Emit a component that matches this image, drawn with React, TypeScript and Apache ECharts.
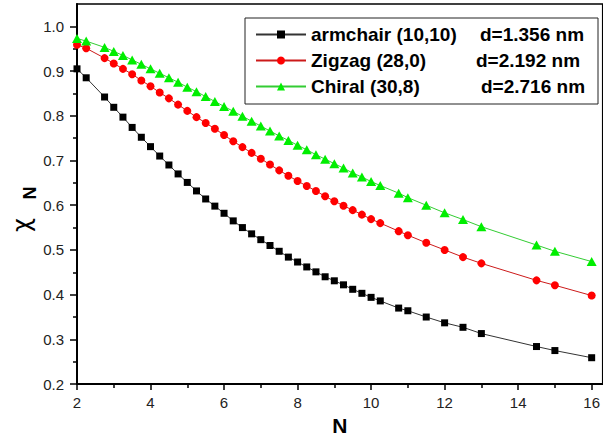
import React, { useEffect, useRef } from "react";
import * as echarts from "echarts";

const N_VALUES = [
  2, 2.25, 2.75, 3, 3.25, 3.5, 3.75, 4, 4.25, 4.5, 4.75, 5, 5.25, 5.5, 5.75, 6,
  6.25, 6.5, 6.75, 7, 7.25, 7.5, 7.75, 8, 8.25, 8.5, 8.75, 9, 9.25, 9.5, 9.75,
  10, 10.25, 10.75, 11, 11.5, 12, 12.5, 13, 14.5, 15, 16,
];

const ARMCHAIR = [
  0.905, 0.885, 0.842, 0.819, 0.797, 0.774, 0.752, 0.731, 0.710, 0.690, 0.670,
  0.651, 0.632, 0.614, 0.598, 0.582, 0.565, 0.550, 0.536, 0.523, 0.510, 0.497,
  0.484, 0.473, 0.462, 0.451, 0.440, 0.431, 0.422, 0.412, 0.403, 0.394, 0.386,
  0.370, 0.364, 0.350, 0.337, 0.327, 0.313, 0.284, 0.275, 0.259,
];

const ZIGZAG = [
  0.959, 0.951, 0.929, 0.917, 0.905, 0.893, 0.879, 0.866, 0.852, 0.839, 0.825,
  0.811, 0.797, 0.784, 0.771, 0.757, 0.743, 0.730, 0.717, 0.704, 0.691, 0.678,
  0.666, 0.654, 0.643, 0.632, 0.620, 0.609, 0.599, 0.589, 0.579, 0.569, 0.560,
  0.542, 0.533, 0.516, 0.500, 0.484, 0.470, 0.432, 0.421, 0.398,
];

const CHIRAL = [
  0.973, 0.967, 0.953, 0.944, 0.935, 0.925, 0.915, 0.905, 0.895, 0.885, 0.875,
  0.864, 0.854, 0.843, 0.832, 0.821, 0.810, 0.799, 0.788, 0.777, 0.766, 0.755,
  0.745, 0.734, 0.724, 0.713, 0.703, 0.693, 0.683, 0.672, 0.663, 0.653, 0.644,
  0.627, 0.617, 0.600, 0.583, 0.568, 0.552, 0.511, 0.497, 0.474,
];

const SERIES_NAMES = ["armchair (10,10)", "Zigzag (28,0)", "Chiral (30,8)"];
const DIAMETERS = ["d=1.356 nm", "d=2.192 nm", "d=2.716 nm"];

const X_TICKS = [2, 4, 6, 8, 10, 12, 14, 16];
const X_MINOR = [3, 5, 7, 9, 11, 13, 15];
const Y_TICKS = [0.2, 0.3, 0.4, 0.5, 0.6, 0.7, 0.8, 0.9, 1.0];
const Y_MINOR = [0.25, 0.35, 0.45, 0.55, 0.65, 0.75, 0.85, 0.95];

const FONT = "Liberation Sans, Arial, sans-serif";

export default function App() {
  const ref = useRef<HTMLDivElement>(null);

  useEffect(() => {
    if (!ref.current) return;
    const chart = echarts.init(ref.current, null, { renderer: "svg" });

    const pairs = (ys: number[]) => N_VALUES.map((n, i) => [n, ys[i]]);

    const aWidths = [169, 165, 170];
    const rich: Record<string, any> = {};
    aWidths.forEach((w, i) => {
      rich["a" + i] = { width: w, fontSize: 19, fontWeight: "bold", fontFamily: FONT, color: "#000", lineHeight: 20 };
      rich["b" + i] = { width: 277 - w, fontSize: 19, fontWeight: "bold", fontFamily: FONT, color: "#000", lineHeight: 20 };
    });

    const xMin = 2, xMax = 16.3, yMin = 0.2, yMax = 1.05;

    const option: any = {
      animation: false,
      backgroundColor: "#fff",
      grid: {
        left: 77,
        top: 4,
        width: 527.7,
        height: 382.7,
        show: true,
        borderColor: "#000",
        borderWidth: 1.5,
        backgroundColor: "transparent",
      },
      legend: {
        orient: "vertical",
        left: 245,
        top: 18,
        padding: [7, 10, 8, 10],
        itemWidth: 50,
        itemHeight: 10,
        itemGap: 7,
        borderColor: "#222",
        borderWidth: 1,
        backgroundColor: "#fff",
        data: SERIES_NAMES,
        formatter: (name: string) => {
          const i = SERIES_NAMES.indexOf(name);
          return `{a${i}|${name}}{b${i}|${DIAMETERS[i]}}`;
        },
        textStyle: {
          fontFamily: FONT,
          fontSize: 19,
          fontWeight: "bold",
          color: "#000",
          rich,
        },
      },
      xAxis: [
        {
          type: "value",
          min: xMin,
          max: xMax,
          interval: 2,
          position: "bottom",
          name: "N",
          nameLocation: "middle",
          nameGap: 28,
          nameTextStyle: { fontFamily: FONT, fontSize: 21, fontWeight: "bold", color: "#000" },
          axisLine: { show: true, lineStyle: { color: "#000", width: 2 } },
          axisTick: { show: true, length: 6, lineStyle: { color: "#000", width: 1.5 }, customValues: X_TICKS },
          axisLabel: { customValues: X_TICKS, margin: 11, fontFamily: FONT, fontSize: 15, color: "#222" },
          splitLine: { show: false },
        },
        {
          type: "value",
          min: xMin,
          max: xMax,
          position: "bottom",
          axisLine: { show: false },
          axisTick: { show: true, length: 4, lineStyle: { color: "#000", width: 1.5 }, customValues: X_MINOR },
          axisLabel: { show: false },
          splitLine: { show: false },
        },
      ],
      yAxis: [
        {
          type: "value",
          min: yMin,
          max: yMax,
          interval: 0.1,
          position: "left",
          axisLine: { show: true, lineStyle: { color: "#000", width: 2 } },
          axisTick: { show: true, length: 7, lineStyle: { color: "#000", width: 1.5 }, customValues: Y_TICKS },
          axisLabel: {
            customValues: Y_TICKS,
            margin: 13,
            fontFamily: FONT,
            fontSize: 15,
            color: "#222",
            formatter: (v: number) => v.toFixed(1),
          },
          splitLine: { show: false },
        },
        {
          type: "value",
          min: yMin,
          max: yMax,
          position: "left",
          axisLine: { show: false },
          axisTick: { show: true, length: 4, lineStyle: { color: "#000", width: 1.5 }, customValues: Y_MINOR },
          axisLabel: { show: false },
          splitLine: { show: false },
        },
      ],
      graphic: [
        {
          type: "text",
          x: 22,
          y: 225,
          rotation: Math.PI / 2,
          style: {
            text: "χ",
            fontSize: 24,
            fontFamily: "DejaVu Sans, sans-serif",
            fill: "#000",
            align: "center",
            verticalAlign: "middle",
          },
        },
        {
          type: "text",
          x: 30,
          y: 193,
          rotation: Math.PI / 2,
          style: {
            text: "N",
            fontSize: 18,
            fontWeight: "bold",
            fontFamily: FONT,
            fill: "#000",
            align: "center",
            verticalAlign: "middle",
          },
        },
      ],
      series: [
        {
          name: SERIES_NAMES[0],
          type: "line",
          data: pairs(ARMCHAIR),
          symbol: "rect",
          symbolSize: 7,
          itemStyle: { color: "#000" },
          lineStyle: { color: "#333", width: 1 },
        },
        {
          name: SERIES_NAMES[1],
          type: "line",
          data: pairs(ZIGZAG),
          symbol: "circle",
          symbolSize: 8,
          itemStyle: { color: "#ff0000" },
          lineStyle: { color: "#cc1a1a", width: 1 },
        },
        {
          name: SERIES_NAMES[2],
          type: "line",
          data: pairs(CHIRAL),
          symbol: "triangle",
          symbolSize: [10, 9],
          itemStyle: { color: "#00ee00" },
          lineStyle: { color: "#33cc33", width: 1 },
        },
      ],
    };

    chart.setOption(option);
    return () => chart.dispose();
  }, []);

  return (
    <div
      ref={ref}
      style={{ position: "fixed", left: 0, top: 0, width: 603, height: 441 }}
    />
  );
}
